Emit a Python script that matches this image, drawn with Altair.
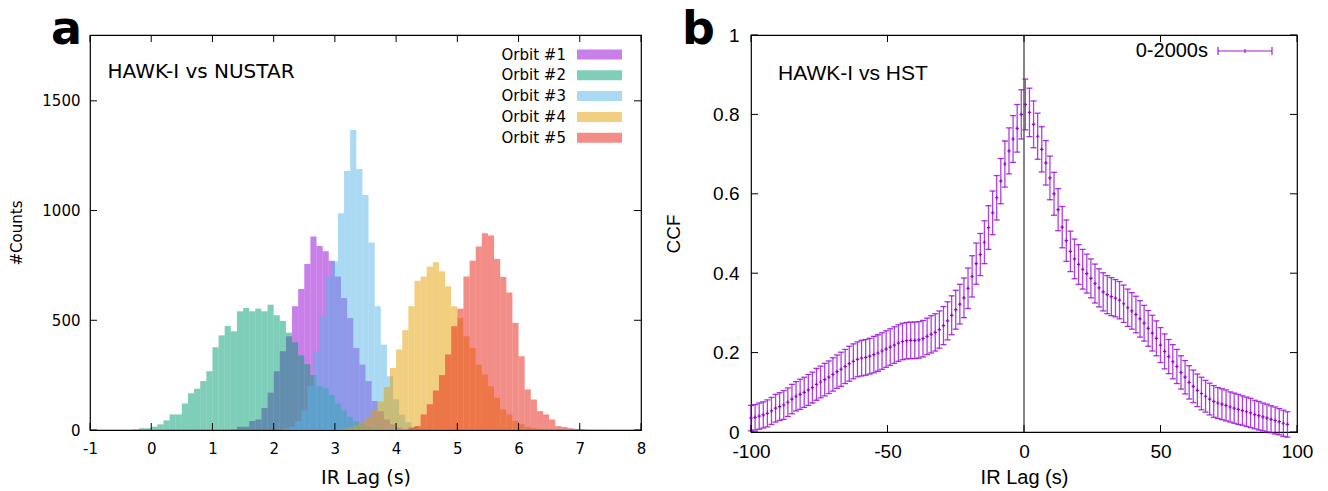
import altair as alt
import pandas as pd

# ---------------- panel a : histograms ----------------
ORBITS = ["Orbit #1", "Orbit #2", "Orbit #3", "Orbit #4", "Orbit #5"]
ORBIT_COLORS = ["#9400d3", "#009e73", "#56b4e9", "#e69f00", "#e51e10"]
BIN_WIDTH = 0.1

orbit1_start = 1.3
orbit1_counts = [3, 15, 15, 41, 48, 100, 170, 268, 359, 427, 564, 642, 756, 882, 839,
                 814, 771, 700, 601, 510, 374, 298, 223, 132, 86, 48, 26, 11, 5]
orbit2_start = -0.3
orbit2_counts = [3, 8, 8, 15, 26, 44, 71, 71, 121, 167, 188, 223, 268, 377, 431, 474,
                 450, 541, 556, 541, 553, 541, 571, 523, 497, 444, 400, 340, 300, 250,
                 200, 190, 160, 120, 90, 60, 40, 25, 15, 8, 4]
orbit3_start = 2.15
orbit3_counts = [5, 15, 40, 90, 200, 359, 518, 700, 768, 988, 1180, 1367, 1189, 1071,
                 855, 564, 389, 245, 140, 70, 35, 15, 6, 3]
orbit4_start = 3.0
orbit4_counts = [3, 6, 12, 20, 35, 55, 90, 130, 195, 283, 367, 455, 564, 680, 700, 745,
                 764, 723, 655, 564, 510, 427, 374, 298, 253, 200, 147, 94, 71, 41, 26,
                 14, 8, 5, 3, 2, 2, 1, 1, 1, 1, 1, 1, 1]
orbit5_start = 4.2
orbit5_counts = [10, 18, 71, 117, 180, 250, 344, 473, 553, 700, 771, 836, 897, 886, 779,
                 697, 627, 488, 336, 185, 139, 86, 71, 48, 18, 14, 8, 5, 3]

X_TICKS_A = [-1, 0, 1, 2, 3, 4, 5, 6, 7, 8]
Y_TICKS_A = [0, 500, 1000, 1500]

rows = []
for name, start, counts in zip(
        ORBITS,
        [orbit1_start, orbit2_start, orbit3_start, orbit4_start, orbit5_start],
        [orbit1_counts, orbit2_counts, orbit3_counts, orbit4_counts, orbit5_counts]):
    for i, c in enumerate(counts):
        x0 = round(start + i * BIN_WIDTH, 4)
        rows.append({"orbit": name, "x0": x0, "x1": round(x0 + BIN_WIDTH, 4), "count": c})
hist = pd.DataFrame(rows)

# ---------------- panel b : CCF ----------------
LAG_START = -100.0
LAG_STEP = 1.5
CCF_VALUES = [
    0.035, 0.037, 0.040, 0.043, 0.047, 0.053, 0.060, 0.064, 0.068, 0.075,
    0.083, 0.090, 0.095, 0.100, 0.106, 0.112, 0.120, 0.126, 0.132, 0.138,
    0.145, 0.152, 0.158, 0.165, 0.172, 0.178, 0.183, 0.186, 0.188, 0.191,
    0.195, 0.199, 0.204, 0.209, 0.214, 0.219, 0.224, 0.228, 0.230, 0.231,
    0.231, 0.232, 0.235, 0.241, 0.246, 0.251, 0.258, 0.268, 0.280, 0.294,
    0.308, 0.322, 0.338, 0.362, 0.392, 0.424, 0.447, 0.478, 0.515, 0.552,
    0.590, 0.632, 0.675, 0.708, 0.738, 0.765, 0.800, 0.825, 0.805, 0.775,
    0.745, 0.712, 0.678, 0.640, 0.600, 0.560, 0.516, 0.482, 0.455, 0.436,
    0.422, 0.410, 0.399, 0.387, 0.374, 0.363, 0.353, 0.346, 0.341, 0.337,
    0.332, 0.323, 0.313, 0.305, 0.296, 0.285, 0.274, 0.261, 0.249, 0.236,
    0.219, 0.203, 0.190, 0.177, 0.165, 0.150, 0.138, 0.125, 0.115, 0.105,
    0.097, 0.090, 0.083, 0.077, 0.073, 0.070, 0.067, 0.063, 0.060, 0.057,
    0.054, 0.051, 0.048, 0.044, 0.041, 0.038, 0.035, 0.032, 0.029, 0.026,
    0.022, 0.019]
CCF_ERRORS = [
    0.032, 0.032, 0.033, 0.033, 0.034, 0.034, 0.035, 0.035, 0.036, 0.036,
    0.037, 0.037, 0.038, 0.038, 0.039, 0.039, 0.040, 0.040, 0.041, 0.041,
    0.042, 0.042, 0.043, 0.043, 0.044, 0.044, 0.044, 0.045, 0.045, 0.045,
    0.046, 0.046, 0.046, 0.046, 0.046, 0.046, 0.046, 0.046, 0.046, 0.046,
    0.046, 0.046, 0.046, 0.046, 0.047, 0.047, 0.047, 0.048, 0.048, 0.049,
    0.049, 0.050, 0.050, 0.051, 0.052, 0.052, 0.053, 0.054, 0.055, 0.055,
    0.056, 0.057, 0.058, 0.058, 0.059, 0.060, 0.062, 0.064, 0.061, 0.059,
    0.058, 0.057, 0.056, 0.055, 0.054, 0.053, 0.052, 0.052, 0.051, 0.050,
    0.050, 0.050, 0.049, 0.049, 0.049, 0.048, 0.048, 0.048, 0.048, 0.047,
    0.047, 0.047, 0.047, 0.046, 0.046, 0.046, 0.045, 0.045, 0.045, 0.044,
    0.044, 0.044, 0.043, 0.043, 0.043, 0.042, 0.042, 0.042, 0.041, 0.041,
    0.041, 0.040, 0.040, 0.040, 0.039, 0.039, 0.039, 0.038, 0.038, 0.038,
    0.037, 0.037, 0.037, 0.036, 0.036, 0.035, 0.035, 0.034, 0.034, 0.033,
    0.033, 0.032]
LAGS = [round(LAG_START + LAG_STEP * k, 2) for k in range(len(CCF_VALUES))]
X_TICKS_B = [-100, -50, 0, 50, 100]
Y_TICKS_B = [0, 0.2, 0.4, 0.6, 0.8, 1]
CCF_LABEL = "0-2000s"
PURPLE = "#9400d3"

ccf = pd.DataFrame({"lag": LAGS, "ccf": CCF_VALUES, "err": CCF_ERRORS})

# ---------------- styling ----------------
FONT_A = "DejaVu Sans"
FONT_B = "Liberation Sans"
W1, H1 = 551, 395
W2, H2 = 546, 397
TICK = 7
hyphen = "datum.value < 0 ? '-' + abs(datum.value) : '' + datum.value"

xs1 = alt.Scale(domain=[-1, 8], nice=False, zero=False)
ys1 = alt.Scale(domain=[0, 1800], nice=False)
ax1x = alt.Axis(
    values=X_TICKS_A, labelExpr=hyphen, ticks=False, tickSize=0, domain=False, grid=False,
    labelFlush=False, labelFont=FONT_A, labelFontSize=15, labelColor="#000", labelPadding=11,
    title="IR Lag (s)", titleFont=FONT_A, titleFontSize=19, titleFontWeight="normal",
    titleColor="#000", titleY=47, titleBaseline="middle")
ax1y = alt.Axis(
    values=Y_TICKS_A, labelExpr="'' + datum.value", ticks=False, tickSize=0, domain=False,
    grid=False, labelFlush=False,
    labelFont=FONT_A, labelFontSize=15, labelColor="#000", labelPadding=10,
    title="#Counts", titleFont=FONT_A, titleFontSize=15, titleFontWeight="normal",
    titleColor="#000", titleX=-74, titleY=H1 / 2, titleAlign="center",
    titleBaseline="middle")

bars = alt.Chart(hist).mark_rect(opacity=0.5, strokeWidth=0).encode(
    x=alt.X("x0:Q", scale=xs1, axis=ax1x),
    x2="x1:Q",
    y=alt.Y("count:Q", scale=ys1, axis=ax1y),
    y2=alt.datum(0),
    color=alt.Color("orbit:N", scale=alt.Scale(domain=ORBITS, range=ORBIT_COLORS), legend=None),
    order=alt.Order("orbit:N"),
)

xt_a = pd.DataFrame({"v": X_TICKS_A})
yt_a = pd.DataFrame({"v": Y_TICKS_A})
ticks_a = [
    alt.Chart(xt_a).mark_rule(color="#000").encode(
        x=alt.X("v:Q", scale=xs1, axis=ax1x), y=alt.value(H1 - TICK), y2=alt.value(H1)),
    alt.Chart(xt_a).mark_rule(color="#000").encode(
        x=alt.X("v:Q", scale=xs1, axis=ax1x), y=alt.value(0), y2=alt.value(TICK)),
    alt.Chart(yt_a).mark_rule(color="#000").encode(
        y=alt.Y("v:Q", scale=ys1, axis=ax1y), x=alt.value(0), x2=alt.value(TICK)),
    alt.Chart(yt_a).mark_rule(color="#000").encode(
        y=alt.Y("v:Q", scale=ys1, axis=ax1y), x=alt.value(W1 - TICK), x2=alt.value(W1)),
]

legend_a = []
for i, (name, col) in enumerate(zip(ORBITS, ORBIT_COLORS)):
    yc = 19.5 + i * 20.8
    d = pd.DataFrame({"label": [name]})
    legend_a.append(alt.Chart(d).mark_text(
        align="right", baseline="middle", font=FONT_A, fontSize=15, color="#000").encode(
        text="label:N", x=alt.value(476), y=alt.value(yc)))
    legend_a.append(alt.Chart(d).mark_rect(color=col, opacity=0.5).encode(
        x=alt.value(487), x2=alt.value(532), y=alt.value(yc - 5), y2=alt.value(yc + 5)))

note_a = alt.Chart(pd.DataFrame({"t": ["HAWK-I vs NUSTAR"]})).mark_text(
    align="left", baseline="alphabetic", font=FONT_A, fontSize=20, color="#000").encode(
    text="t:N", x=alt.value(17.5), y=alt.value(43))
letter_a = alt.Chart(pd.DataFrame({"t": ["a"]})).mark_text(
    align="center", baseline="alphabetic", font=FONT_A, fontSize=46, fontWeight="bold",
    color="#000").encode(text="t:N", x=alt.value(-23.5), y=alt.value(9))

left = alt.layer(bars, *ticks_a, *legend_a, note_a, letter_a).properties(width=W1, height=H1)

# ---------------- right panel ----------------
xs2 = alt.Scale(domain=[-100, 100], nice=False, zero=False)
ys2 = alt.Scale(domain=[0, 1], nice=False)
ax2x = alt.Axis(
    values=X_TICKS_B, labelExpr=hyphen, ticks=False, tickSize=0, domain=False, grid=False,
    labelFlush=False, labelFont=FONT_B, labelFontSize=19, labelColor="#000", labelPadding=10,
    title="IR Lag (s)", titleFont=FONT_B, titleFontSize=20, titleFontWeight="normal",
    titleColor="#000", titleY=45, titleBaseline="middle")
ax2y = alt.Axis(
    values=Y_TICKS_B, labelExpr="'' + datum.value", ticks=False, tickSize=0,
    domain=False, grid=False, labelFlush=False,
    labelFont=FONT_B, labelFontSize=19, labelColor="#000", labelPadding=12,
    title="CCF", titleFont=FONT_B, titleFontSize=19, titleFontWeight="normal",
    titleColor="#000", titleX=-78, titleY=H2 / 2, titleAlign="center",
    titleBaseline="middle")

base = alt.Chart(ccf).transform_calculate(
    lo="datum.ccf - datum.err", hi="datum.ccf + datum.err")

vbars = base.mark_rule(color=PURPLE, opacity=0.75, strokeWidth=1.3).encode(
    x=alt.X("lag:Q", scale=xs2, axis=ax2x),
    y=alt.Y("lo:Q", scale=ys2, axis=ax2y),
    y2="hi:Q",
)
cap_lo = base.mark_tick(orient="horizontal", size=6, thickness=1.3, color=PURPLE,
                        opacity=0.8).encode(
    x=alt.X("lag:Q", scale=xs2, axis=ax2x), y=alt.Y("lo:Q", scale=ys2, axis=ax2y))
cap_hi = base.mark_tick(orient="horizontal", size=6, thickness=1.3, color=PURPLE,
                        opacity=0.8).encode(
    x=alt.X("lag:Q", scale=xs2, axis=ax2x), y=alt.Y("hi:Q", scale=ys2, axis=ax2y))
centers = base.mark_point(shape="M-1,0L1,0M0,-1L0,1", size=12, strokeWidth=1.2,
                          color=PURPLE, filled=False, opacity=0.95).encode(
    x=alt.X("lag:Q", scale=xs2, axis=ax2x), y=alt.Y("ccf:Q", scale=ys2, axis=ax2y))

zero_line = alt.Chart(pd.DataFrame({"v": [0]})).mark_rule(color="#444", strokeWidth=1.3).encode(
    x=alt.X("v:Q", scale=xs2, axis=ax2x), y=alt.value(0), y2=alt.value(H2))

xt_b = pd.DataFrame({"v": X_TICKS_B})
yt_b = pd.DataFrame({"v": Y_TICKS_B})
ticks_b = [
    alt.Chart(xt_b).mark_rule(color="#000").encode(
        x=alt.X("v:Q", scale=xs2, axis=ax2x), y=alt.value(H2 - TICK), y2=alt.value(H2)),
    alt.Chart(xt_b).mark_rule(color="#000").encode(
        x=alt.X("v:Q", scale=xs2, axis=ax2x), y=alt.value(0), y2=alt.value(TICK)),
    alt.Chart(yt_b).mark_rule(color="#000").encode(
        y=alt.Y("v:Q", scale=ys2, axis=ax2y), x=alt.value(0), x2=alt.value(TICK)),
    alt.Chart(yt_b).mark_rule(color="#000").encode(
        y=alt.Y("v:Q", scale=ys2, axis=ax2y), x=alt.value(W2 - TICK), x2=alt.value(W2)),
]

ld = pd.DataFrame({"label": [CCF_LABEL]})
legend_b = [
    alt.Chart(ld).mark_text(align="right", baseline="middle", font=FONT_B, fontSize=20,
                            color="#000").encode(text="label:N", x=alt.value(457), y=alt.value(16)),
    alt.Chart(ld).mark_rule(color=PURPLE, opacity=0.6, strokeWidth=1.5).encode(
        x=alt.value(467), x2=alt.value(521), y=alt.value(16)),
    alt.Chart(ld).mark_rule(color=PURPLE, opacity=0.8, strokeWidth=1.3).encode(
        x=alt.value(467), y=alt.value(12), y2=alt.value(20)),
    alt.Chart(ld).mark_rule(color=PURPLE, opacity=0.8, strokeWidth=1.3).encode(
        x=alt.value(521), y=alt.value(12), y2=alt.value(20)),
    alt.Chart(ld).mark_rule(color=PURPLE, opacity=0.8, strokeWidth=1.3).encode(
        x=alt.value(494), y=alt.value(14), y2=alt.value(18)),
]

note_b = alt.Chart(pd.DataFrame({"t": ["HAWK-I vs HST"]})).mark_text(
    align="left", baseline="alphabetic", font=FONT_B, fontSize=21, color="#000").encode(
    text="t:N", x=alt.value(27), y=alt.value(45))
letter_b = alt.Chart(pd.DataFrame({"t": ["b"]})).mark_text(
    align="center", baseline="alphabetic", font=FONT_A, fontSize=46, fontWeight="bold",
    color="#000").encode(text="t:N", x=alt.value(-52.5), y=alt.value(9))

right = alt.layer(vbars, cap_lo, cap_hi, centers, zero_line, *ticks_b, *legend_b,
                  note_b, letter_b).properties(width=W2, height=H2)

chart = alt.hconcat(left, right, spacing=110, bounds="flush").properties(
    padding={"left": 8, "top": 6, "right": 5, "bottom": 5},
    background="white",
).configure_view(stroke="#000", strokeWidth=1.2)

chart.save("out.html", embed_options={"renderer": "svg", "actions": False})
